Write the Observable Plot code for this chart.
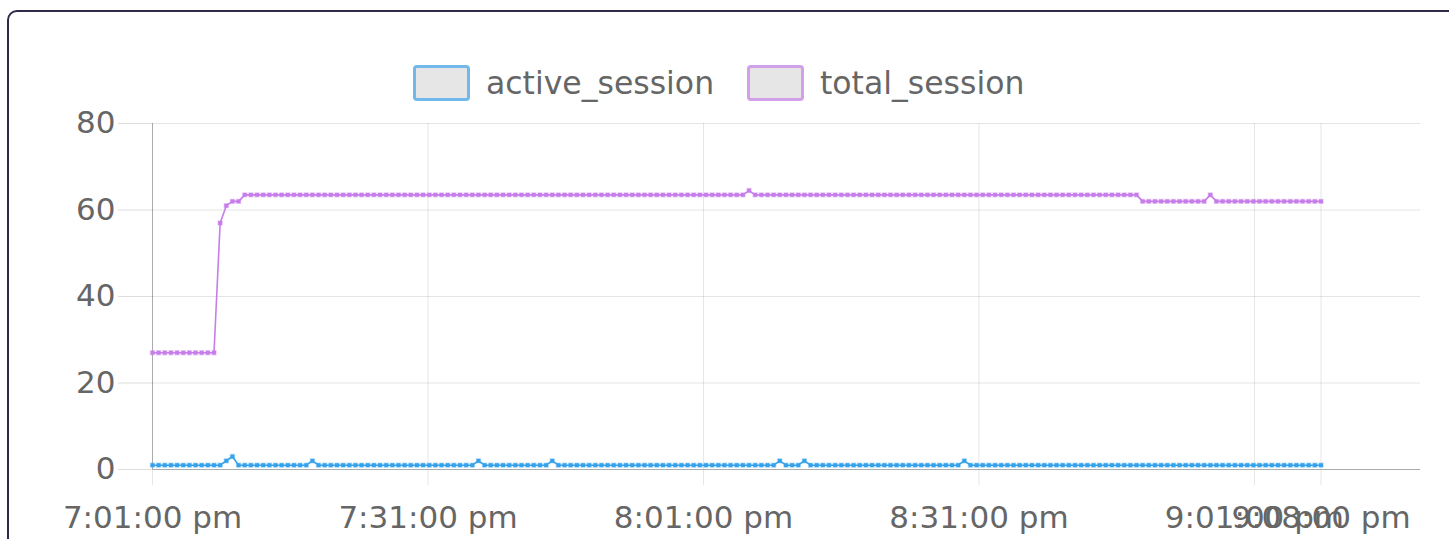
<!DOCTYPE html>
<html><head><meta charset="utf-8">
<script src="https://cdn.jsdelivr.net/npm/d3@7"></script>
<script src="https://cdn.jsdelivr.net/npm/@observablehq/plot@0.6"></script>
<style>
html,body{margin:0;padding:0;background:#fff;}
body{width:1449px;height:539px;overflow:hidden;position:relative;font-family:"DejaVu Sans",sans-serif;}
#frame{position:absolute;left:7px;top:10px;width:1520px;height:620px;border:2.5px solid #2e2a48;border-radius:10px;box-sizing:border-box;}
.item{position:absolute;top:65px;display:flex;align-items:center;gap:16px;font-size:31.5px;color:#666;white-space:nowrap;}
.box{width:51px;height:30px;border:3px solid;border-radius:4px;background:#e6e6e6;}
#chart{position:absolute;left:0;top:100px;}
</style></head>
<body>
<div id="frame"></div>
<div id="legend"></div>
<div id="chart"></div>
<script>
// ---- data ----
const seriesNames = ["active_session", "total_session"];
const seriesColors = ["#36a2eb", "#c77dea"];
const startTime = "2024-01-01T19:01:00";
const endTime = "2024-01-01T21:08:15";
const domainEnd = "2024-01-01T21:19:05";
const activeSession = [
1,1,1,1,1,1,1,1,1,1, 1,1,2,3,1,1,1,1,1,1, 1,1,1,1,1,1,2,1,1,1,
1,1,1,1,1,1,1,1,1,1, 1,1,1,1,1,1,1,1,1,1, 1,1,1,2,1,1,1,1,1,1,
1,1,1,1,1,2,1,1,1,1, 1,1,1,1,1,1,1,1,1,1, 1,1,1,1,1,1,1,1,1,1,
1,1,1,1,1,1,1,1,1,1, 1,1,2,1,1,1,2,1,1,1, 1,1,1,1,1,1,1,1,1,1,
1,1,1,1,1,1,1,1,1,1, 1,1,2,1,1,1,1,1,1,1, 1,1,1,1,1,1,1,1,1,1,
1,1,1,1,1,1,1,1,1,1, 1,1,1,1,1,1,1,1,1,1, 1,1,1,1,1,1,1,1,1,1,
1,1,1,1,1,1,1,1,1,1, 1
];
const totalSession = [
27,27,27,27,27,27,27,27,27,27, 27,57,61,62,62,63.5,63.5,63.5,63.5,63.5, 63.5,63.5,63.5,63.5,63.5,63.5,63.5,63.5,63.5,63.5,
63.5,63.5,63.5,63.5,63.5,63.5,63.5,63.5,63.5,63.5, 63.5,63.5,63.5,63.5,63.5,63.5,63.5,63.5,63.5,63.5, 63.5,63.5,63.5,63.5,63.5,63.5,63.5,63.5,63.5,63.5,
63.5,63.5,63.5,63.5,63.5,63.5,63.5,63.5,63.5,63.5, 63.5,63.5,63.5,63.5,63.5,63.5,63.5,63.5,63.5,63.5, 63.5,63.5,63.5,63.5,63.5,63.5,63.5,63.5,63.5,63.5,
63.5,63.5,63.5,63.5,63.5,63.5,63.5,64.5,63.5,63.5, 63.5,63.5,63.5,63.5,63.5,63.5,63.5,63.5,63.5,63.5, 63.5,63.5,63.5,63.5,63.5,63.5,63.5,63.5,63.5,63.5,
63.5,63.5,63.5,63.5,63.5,63.5,63.5,63.5,63.5,63.5, 63.5,63.5,63.5,63.5,63.5,63.5,63.5,63.5,63.5,63.5, 63.5,63.5,63.5,63.5,63.5,63.5,63.5,63.5,63.5,63.5,
63.5,63.5,63.5,63.5,63.5,63.5,63.5,63.5,63.5,63.5, 63.5,62,62,62,62,62,62,62,62,62, 62,62,63.5,62,62,62,62,62,62,62,
62,62,62,62,62,62,62,62,62,62, 62
];
const yTicks = [0, 20, 40, 60, 80];
const xTickTimes = ["2024-01-01T19:01:00","2024-01-01T19:31:00","2024-01-01T20:01:00","2024-01-01T20:31:00","2024-01-01T21:01:00","2024-01-01T21:08:15"];
const xTickLabels = ["7:01:00 pm","7:31:00 pm","8:01:00 pm","8:31:00 pm","9:01:00 pm","9:08:00 pm"];

// ---- build ----
const t0 = new Date(startTime), t1 = new Date(endTime);
const n = activeSession.length;
const timeAt = i => new Date(+t0 + (t1 - t0) * i / (n - 1));
const rows = [];
activeSession.forEach((v, i) => rows.push({time: timeAt(i), value: v, series: seriesNames[0]}));
totalSession.forEach((v, i) => rows.push({time: timeAt(i), value: v, series: seriesNames[1]}));
const xTicks = xTickTimes.map(s => new Date(s));
const labelOf = new Map(xTicks.map((d, i) => [+d, xTickLabels[i]]));

const legend = document.getElementById("legend");
const legendLefts = [413, 747];
seriesNames.forEach((name, i) => {
  const it = document.createElement("div");
  it.className = "item";
  it.style.left = legendLefts[i] + "px";
  it.innerHTML = `<div class="box" style="border-color:${seriesColors[i]}aa"></div><span>${name}</span>`;
  legend.appendChild(it);
});

const chart = Plot.plot({
  width: 1449, height: 439,
  marginLeft: 152, marginRight: 29, marginTop: 23, marginBottom: 70,
  style: {fontFamily: "DejaVu Sans, sans-serif", fontSize: "31px", color: "#666", background: "transparent", overflow: "visible"},
  x: {type: "time", domain: [t0, new Date(domainEnd)]},
  y: {domain: [0, 80]},
  color: {domain: seriesNames, range: seriesColors},
  marks: [
    Plot.gridY(yTicks, {stroke: "#000", strokeOpacity: 0.1}),
    Plot.gridX(xTicks, {stroke: "#000", strokeOpacity: 0.1}),
    Plot.axisY({ticks: yTicks, tickSize: 34, tickPadding: 3, stroke: "#ddd", fill: "#666", label: null}),
    Plot.axisX({ticks: xTicks, tickFormat: d => labelOf.get(+d), tickSize: 16, tickPadding: 20, stroke: "#e6e6e6", fill: "#666", label: null}),
    Plot.ruleY([0], {stroke: "#000", strokeOpacity: 0.25}),
    Plot.ruleX([t0], {stroke: "#000", strokeOpacity: 0.25}),
    Plot.line(rows, {x: "time", y: "value", z: "series", stroke: "series", strokeWidth: 1.6}),
    Plot.dot(rows, {x: "time", y: "value", fill: "series", stroke: "series", strokeOpacity: 0.35, strokeWidth: 1.5, r: 2.2, symbol: "square"})
  ]
});
document.getElementById("chart").appendChild(chart);
</script>
</body></html>
